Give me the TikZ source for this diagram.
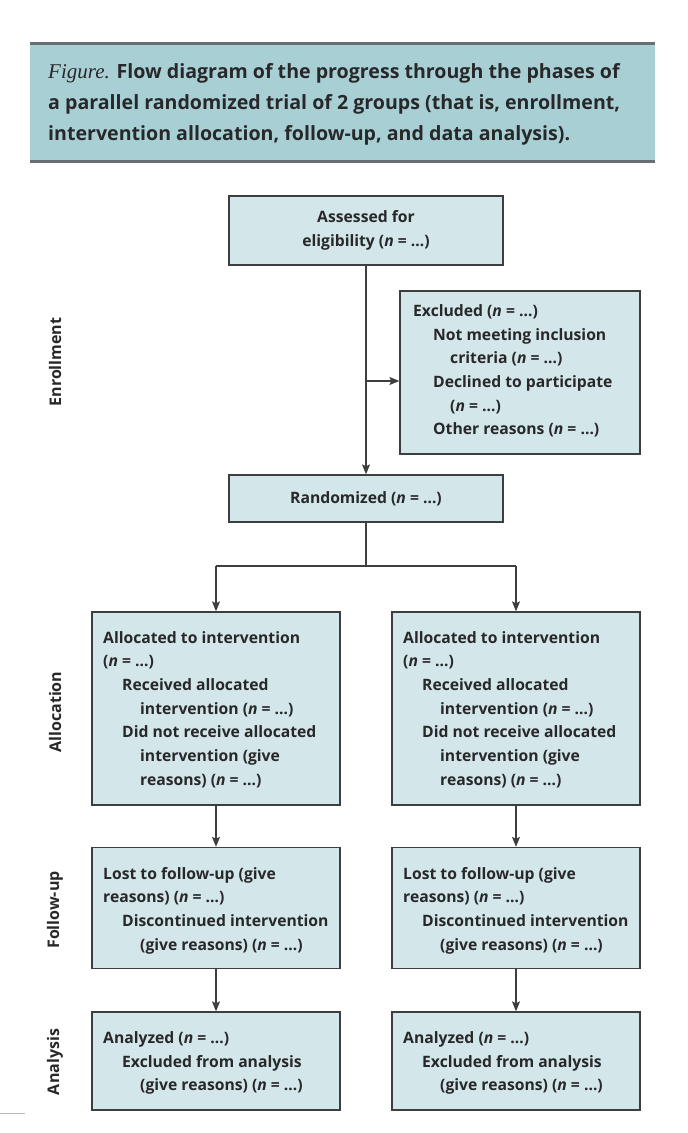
\documentclass[tikz,border=0pt]{standalone}
\usepackage{fontspec}
\setmainfont{Open Sans}
\newfontfamily\figserif{Liberation Serif}
\usetikzlibrary{arrows.meta}
\definecolor{headfill}{RGB}{168,208,212}
\definecolor{headrule}{RGB}{105,110,112}
\definecolor{boxfill}{RGB}{211,230,234}
\definecolor{boxline}{RGB}{60,62,64}
\definecolor{txt}{RGB}{40,40,42}
\newcommand\nEq{(\textit{n} = \ldots)}
\begin{document}
\begin{tikzpicture}[x=1pt,y=-1pt,
  box/.style={draw=boxline, line width=1.3pt, fill=boxfill, inner sep=0pt, text=txt,
    font=\bfseries\fontsize{15.7}{23.7}\selectfont, align=center},
  boxtxt/.style={inner sep=0pt, text=txt, anchor=west, align=left,
    font=\bfseries\fontsize{15.7}{23.7}\selectfont},
  sidelbl/.style={rotate=90, inner sep=0pt, text=txt, font=\bfseries\fontsize{16}{18}\selectfont},
  conn/.style={draw=boxline, line width=1.2pt},
  arr/.style={conn, -{Stealth[length=10pt,width=8pt,inset=2pt]}}
]
\useasboundingbox (0,0) rectangle (688,1133);
\fill[white] (0,0) rectangle (688,1133);
% header
\fill[headfill] (30,42) rectangle (655,162);
\draw[headrule, line width=3pt] (30,43) -- (655,43);
\draw[headrule, line width=3pt] (30,161) -- (655,161);
\node[inner sep=0pt, anchor=west, align=left, text=txt,
  font=\bfseries\fontsize{19.6}{31}\selectfont] (header) at (48,104)
  {{\figserif\mdseries\itshape\fontsize{21}{31}\selectfont Figure.} Flow diagram of the progress through the phases of\\
   a parallel randomized trial of 2 groups (that is, enrollment,\\
   intervention allocation, follow-up, and data analysis).};
% side labels
\node[sidelbl] (lblEnroll) at (55,362) {Enrollment};
\node[sidelbl] (lblAlloc) at (55,712) {Allocation};
\node[sidelbl] (lblFollow) at (55,910) {Follow-up};
\node[sidelbl] (lblAnalysis) at (55,1062) {Analysis};
% boxes
\node[box, minimum width=274pt, minimum height=69pt] (assess) at (366,230.5)
  {Assessed for\\eligibility \nEq};
\node[box, minimum width=240pt, minimum height=163pt] (excl) at (520,372.5) {};
\node[boxtxt] (excltxt) at (413,371)
  {Excluded \nEq\\
   \hspace*{20pt}Not meeting inclusion\\
   \hspace*{37pt}criteria \nEq\\
   \hspace*{20pt}Declined to participate\\
   \hspace*{37pt}\nEq\\
   \hspace*{20pt}Other reasons \nEq};
\node[box, minimum width=274pt, minimum height=47pt] (rand) at (366,498.5)
  {Randomized \nEq};
\node[box, minimum width=248pt, minimum height=193pt] (allocL) at (216,708.5) {};
\node[box, minimum width=248pt, minimum height=193pt] (allocR) at (516,708.5) {};
\foreach \side/\x in {L/103, R/403}{
  \node[boxtxt] (alloctxt\side) at (\x,709.5)
    {Allocated to intervention\\
     \nEq\\
     \hspace*{19pt}Received allocated\\
     \hspace*{37pt}intervention \nEq\\
     \hspace*{19pt}Did not receive allocated\\
     \hspace*{37pt}intervention (give\\
     \hspace*{37pt}reasons) \nEq};
}
\node[box, minimum width=248pt, minimum height=121pt] (followL) at (216,908) {};
\node[box, minimum width=248pt, minimum height=121pt] (followR) at (516,908) {};
\foreach \side/\x in {L/103, R/403}{
  \node[boxtxt] (followtxt\side) at (\x,910.5)
    {Lost to follow-up (give\\
     reasons) \nEq\\
     \hspace*{19pt}Discontinued intervention\\
     \hspace*{37pt}(give reasons) \nEq};
}
\node[box, minimum width=248pt, minimum height=98pt] (anaL) at (216,1061) {};
\node[box, minimum width=248pt, minimum height=98pt] (anaR) at (516,1061) {};
\foreach \side/\x in {L/103, R/403}{
  \node[boxtxt] (anatxt\side) at (\x,1063)
    {Analyzed \nEq\\
     \hspace*{19pt}Excluded from analysis\\
     \hspace*{37pt}(give reasons) \nEq};
}
% connectors
\coordinate (split) at (366,381);
\coordinate (fork) at (366,566);
\draw[arr] (assess.south) -- (rand.north);
\draw[arr] (split) -- (excl.west |- split);
\draw[conn] (rand.south) -- (fork);
\draw[conn] (allocL.north |- fork) -- (allocR.north |- fork);
\draw[arr] (allocL.north |- fork) -- (allocL.north);
\draw[arr] (allocR.north |- fork) -- (allocR.north);
\draw[arr] (allocL.south) -- (followL.north);
\draw[arr] (allocR.south) -- (followR.north);
\draw[arr] (followL.south) -- (anaL.north);
\draw[arr] (followR.south) -- (anaR.north);
% page rule fragment at bottom left
\draw[gray!55, line width=1pt] (0,1113) -- (25,1113);
\end{tikzpicture}
\end{document}
